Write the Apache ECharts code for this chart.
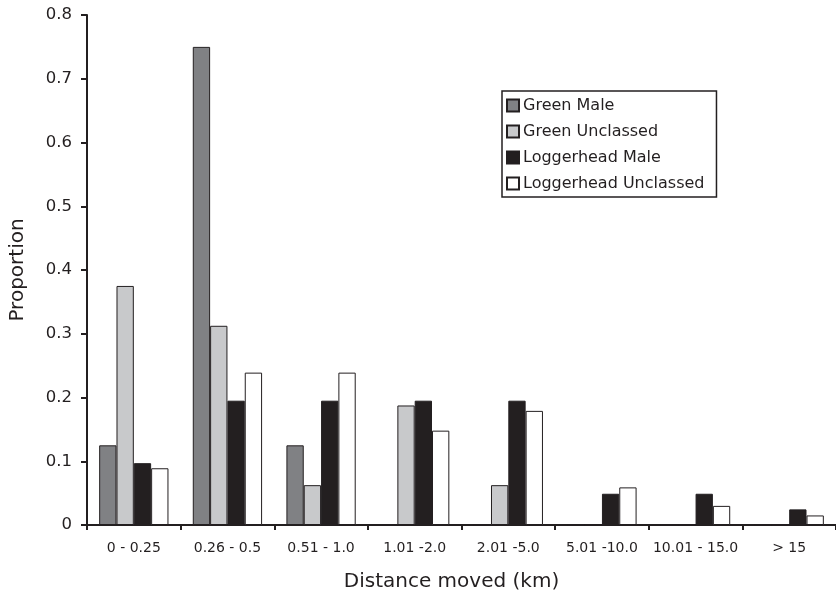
<!DOCTYPE html>
<html>
<head>
<meta charset="utf-8">
<script src="https://cdn.jsdelivr.net/npm/echarts@6/dist/echarts.min.js"></script>
<style>
  html, body { margin: 0; padding: 0; background: #fff; }
  #chart { width: 836px; height: 599px; }
</style>
</head>
<body>
<div id="chart"></div>
<script>
const categories = ['0 - 0.25', '0.26 - 0.5', '0.51 - 1.0', '1.01 -2.0', '2.01 -5.0', '5.01 -10.0', '10.01 - 15.0', '> 15']
const greenMale = [0.125, 0.75, 0.125, 0, 0, 0, 0, 0]
const greenUnclassed = [0.375, 0.3125, 0.0625, 0.1875, 0.0625, 0, 0, 0]
const loggerheadMale = [0.097, 0.195, 0.195, 0.195, 0.195, 0.049, 0.049, 0.0245]
const loggerheadUnclassed = [0.089, 0.239, 0.239, 0.148, 0.179, 0.059, 0.030, 0.015]
const yTicks = [0, 0.1, 0.2, 0.3, 0.4, 0.5, 0.6, 0.7, 0.8]

const ink = '#231f20'
const font = 'DejaVu Sans, Liberation Sans, Arial, sans-serif'

const makeSeries = (name, data, color) => ({
  name,
  type: 'bar',
  data,
  barGap: '0%',
  barCategoryGap: '26%',
  itemStyle: {
    color,
    borderColor: ink,
    borderWidth: 1
  },
  emphasis: { disabled: true }
})

const chart = echarts.init(document.getElementById('chart'))
chart.setOption({
  backgroundColor: '#fff',
  animation: false,
  textStyle: { fontFamily: font, color: ink },
  grid: {
    left: 84,
    right: 0,
    top: 15,
    bottom: 74
  },
  legend: {
    orient: 'vertical',
    left: 502,
    top: 91,
    padding: [6, 12, 5, 4],
    itemGap: 9,
    itemWidth: 12,
    itemHeight: 12,
    icon: 'rect',
    borderColor: ink,
    borderWidth: 1.5,
    textStyle: {
      fontFamily: font,
      fontSize: 16,
      lineHeight: 17,
      color: ink,
      padding: [0, 0, 0, -1]
    },
    data: ['Green Male', 'Green Unclassed', 'Loggerhead Male', 'Loggerhead Unclassed']
  },
  xAxis: {
    type: 'category',
    data: categories,
    name: 'Distance moved (km)',
    nameLocation: 'middle',
    nameGap: 47,
    nameTextStyle: { fontFamily: font, fontSize: 20, color: ink, padding: [0, 20, 0, 0] },
    axisLine: { lineStyle: { color: ink, width: 2 } },
    axisTick: { show: true, length: 5, lineStyle: { color: ink, width: 2 } },
    axisLabel: { fontFamily: font, fontSize: 14, color: ink, margin: 16, interval: 0, hideOverlap: false }
  },
  yAxis: {
    type: 'value',
    min: yTicks[0],
    max: yTicks[yTicks.length - 1],
    interval: 0.1,
    name: 'Proportion',
    nameLocation: 'middle',
    nameGap: 59,
    nameTextStyle: { fontFamily: font, fontSize: 20, color: ink },
    axisLine: { show: true, lineStyle: { color: ink, width: 2 } },
    axisTick: { show: true, length: 6, lineStyle: { color: ink, width: 2 } },
    axisLabel: {
      fontFamily: font,
      fontSize: 16.5,
      color: ink,
      margin: 15,
      formatter: v => String(Math.round(v * 10) / 10)
    },
    splitLine: { show: false }
  },
  series: [
    makeSeries('Green Male', greenMale, '#808184'),
    makeSeries('Green Unclassed', greenUnclassed, '#c8c9cb'),
    makeSeries('Loggerhead Male', loggerheadMale, ink),
    makeSeries('Loggerhead Unclassed', loggerheadUnclassed, '#ffffff')
  ]
})
</script>
</body>
</html>
